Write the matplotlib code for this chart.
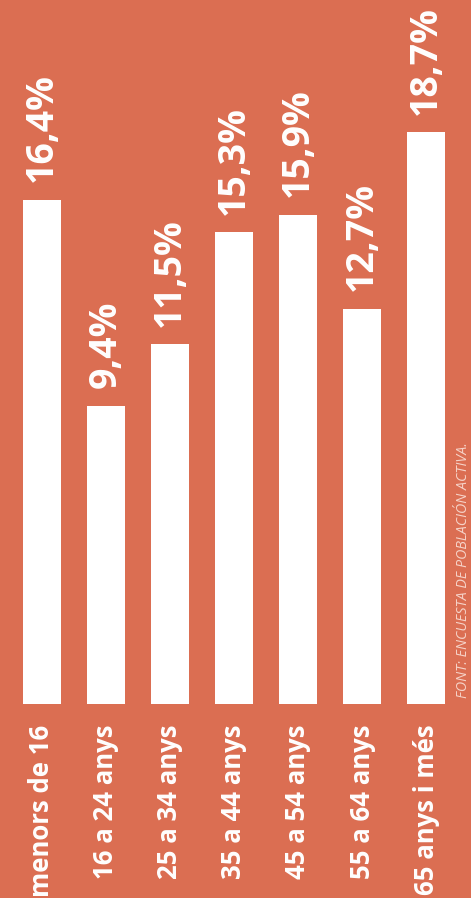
import matplotlib.pyplot as plt

categories = ["menors de 16", "16 a 24 anys", "25 a 34 anys", "35 a 44 anys",
              "45 a 54 anys", "55 a 64 anys", "65 anys i més"]
values = [16.4, 9.4, 11.5, 15.3, 15.9, 12.7, 18.7]
value_labels = ["16,4%", "9,4%", "11,5%", "15,3%", "15,9%", "12,7%", "18,7%"]
source = "FONT: ENCUESTA DE POBLACIÓN ACTIVA."

bg = "#DB6E52"
base = -0.71  # bars start a little below zero in the original

fig = plt.figure(figsize=(4.71, 8.98), dpi=100, facecolor=bg)
ax = fig.add_axes([0, 0, 1, 1])
ax.set_facecolor(bg)
ax.set_xlim(-0.656, 6.703)
ax.set_ylim(-7.30, 23.19)
ax.axis("off")

x = list(range(len(categories)))
ax.bar(x, [v - base for v in values], bottom=base, width=0.59, color="white")

for xi, v, lab, cat in zip(x, values, value_labels, categories):
	ax.text(xi, v + 0.6, lab, rotation=90, ha="center", va="bottom",
	        color="white", fontsize=27, fontweight="bold", family="Open Sans")
	ax.text(xi, base - 0.7, cat, rotation=90, ha="center", va="top",
	        color="white", fontsize=18.5, fontweight="bold", family="Open Sans")

ax.text(6.59, base + 0.2, source, rotation=90, ha="center", va="bottom",
        color="#F6D3C8", fontsize=10.3, style="italic", family="Open Sans")

fig.savefig("out.png", dpi=100, facecolor=bg)
